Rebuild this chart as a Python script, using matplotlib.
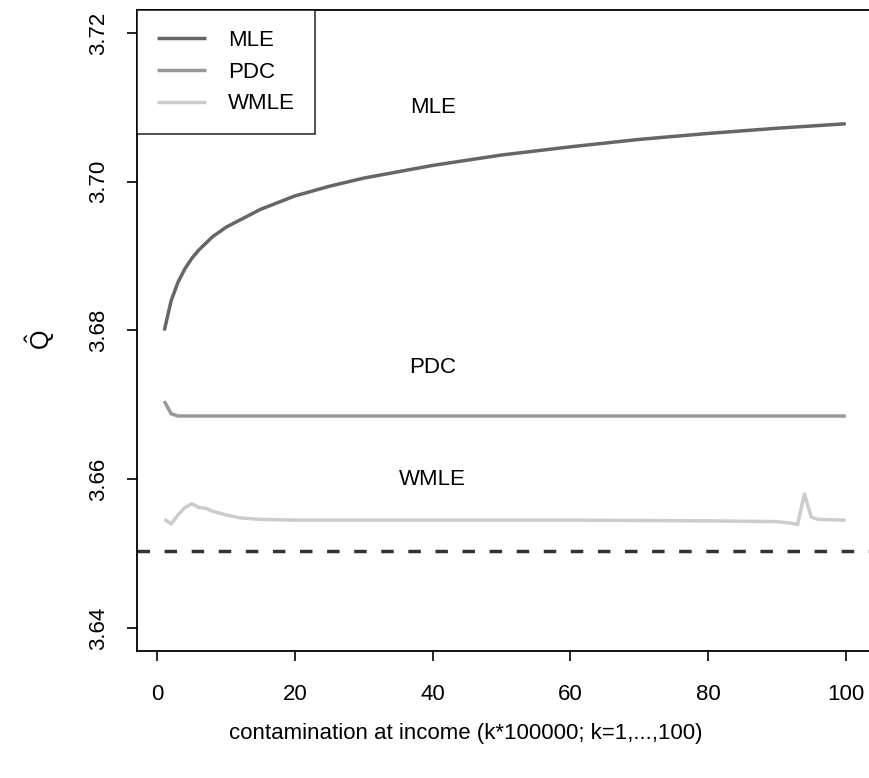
import matplotlib
matplotlib.use("Agg")
import matplotlib.pyplot as plt

plt.rcParams['font.family'] = ['Liberation Sans', 'DejaVu Sans']
plt.rcParams['mathtext.fontset'] = 'custom'
plt.rcParams['mathtext.rm'] = 'Liberation Sans'
plt.rcParams['mathtext.it'] = 'Liberation Sans'

# ---- data ----
mle_k = [1, 2, 3, 4, 5, 6, 8, 10, 15, 20, 25, 30, 40, 50, 60, 70, 80, 90, 100]
mle_q = [3.6800, 3.6840, 3.6865, 3.6883, 3.6897, 3.6908, 3.6926, 3.6939, 3.6963,
         3.6981, 3.6994, 3.7005, 3.7022, 3.7036, 3.7047, 3.7057, 3.7065, 3.7072, 3.7078]

pdc_k = [1, 2, 3, 4, 10, 50, 100]
pdc_q = [3.6705, 3.6688, 3.6685, 3.6685, 3.6685, 3.6685, 3.6685]

wmle_k = [1, 2, 3, 4, 5, 6, 7, 8, 10, 12, 15, 20, 40, 60, 80, 90, 92, 93, 94, 95, 96, 100]
wmle_q = [3.6546, 3.6540, 3.6552, 3.6562, 3.6567, 3.6562, 3.6561, 3.6557, 3.6552, 3.6548,
          3.6546, 3.6545, 3.6545, 3.6545, 3.6544, 3.6543, 3.6541, 3.6539, 3.6580, 3.6549,
          3.6546, 3.6545]

true_q = 3.6504

label_names = ["MLE", "PDC", "WMLE"]
label_k = [40, 40, 40]
label_q = [3.7100, 3.6750, 3.6600]

xticks = [0, 20, 40, 60, 80, 100]
yticks = [3.64, 3.66, 3.68, 3.70, 3.72]

# ---- figure ----
W, H = 870, 778
fig = plt.figure(figsize=(W / 100, H / 100), dpi=100)
left_px, right_px, top_px, bot_px = 137, 873, 10, 651
ax = fig.add_axes([left_px / W, 1 - bot_px / H, (right_px - left_px) / W, (bot_px - top_px) / H])

FS = 16
c_mle, c_pdc, c_wmle = '#666666', '#999999', '#cccccc'
lw = 2.5
ax.plot(mle_k, mle_q, color=c_mle, lw=lw, solid_capstyle='butt', label='MLE')
ax.plot(pdc_k, pdc_q, color=c_pdc, lw=lw, solid_capstyle='butt', label='PDC')
ax.plot(wmle_k, wmle_q, color=c_wmle, lw=lw, solid_capstyle='butt', label='WMLE')
ax.axhline(true_q, color='#333333', lw=lw, ls=(0, (3.6, 4.2)))

for name, k, q in zip(label_names, label_k, label_q):
    ax.text(k, q, name, ha='center', va='center', fontsize=FS)

xr = 100 - 1
ax.set_xlim(1 - 0.04 * xr, 100 + 0.04 * xr)
ax.set_ylim(3.6369, 3.7231)

ax.set_xticks(xticks)
ax.set_xticklabels([str(t) for t in xticks], fontsize=FS)
ax.set_yticks(yticks)
ax.set_yticklabels([f"{t:.2f}" for t in yticks], fontsize=FS, rotation=90, va='center')
ax.tick_params(axis='both', direction='out', length=7, width=1.2, colors='black')
ax.tick_params(axis='x', pad=17)
ax.tick_params(axis='y', pad=13)
for s in ax.spines.values():
    s.set_linewidth(1.3)
    s.set_color('black')

leg = ax.legend(loc='upper left', bbox_to_anchor=(0, 1), borderaxespad=0,
                fontsize=FS, frameon=True, fancybox=False, edgecolor='black',
                handlelength=2.2, handletextpad=1.0, labelspacing=0.48,
                borderpad=0.9)
leg.get_frame().set_linewidth(1.2)

fig.text(466 / W, 1 - 733 / H, "contamination at income (k*100000; k=1,...,100)",
         ha='center', va='center', fontsize=FS)
fig.text(40 / W, 1 - 340 / H, r'$\hat{\mathrm{Q}}$', rotation=90,
         ha='center', va='center', fontsize=18)

fig.savefig("out.png", dpi=100)
